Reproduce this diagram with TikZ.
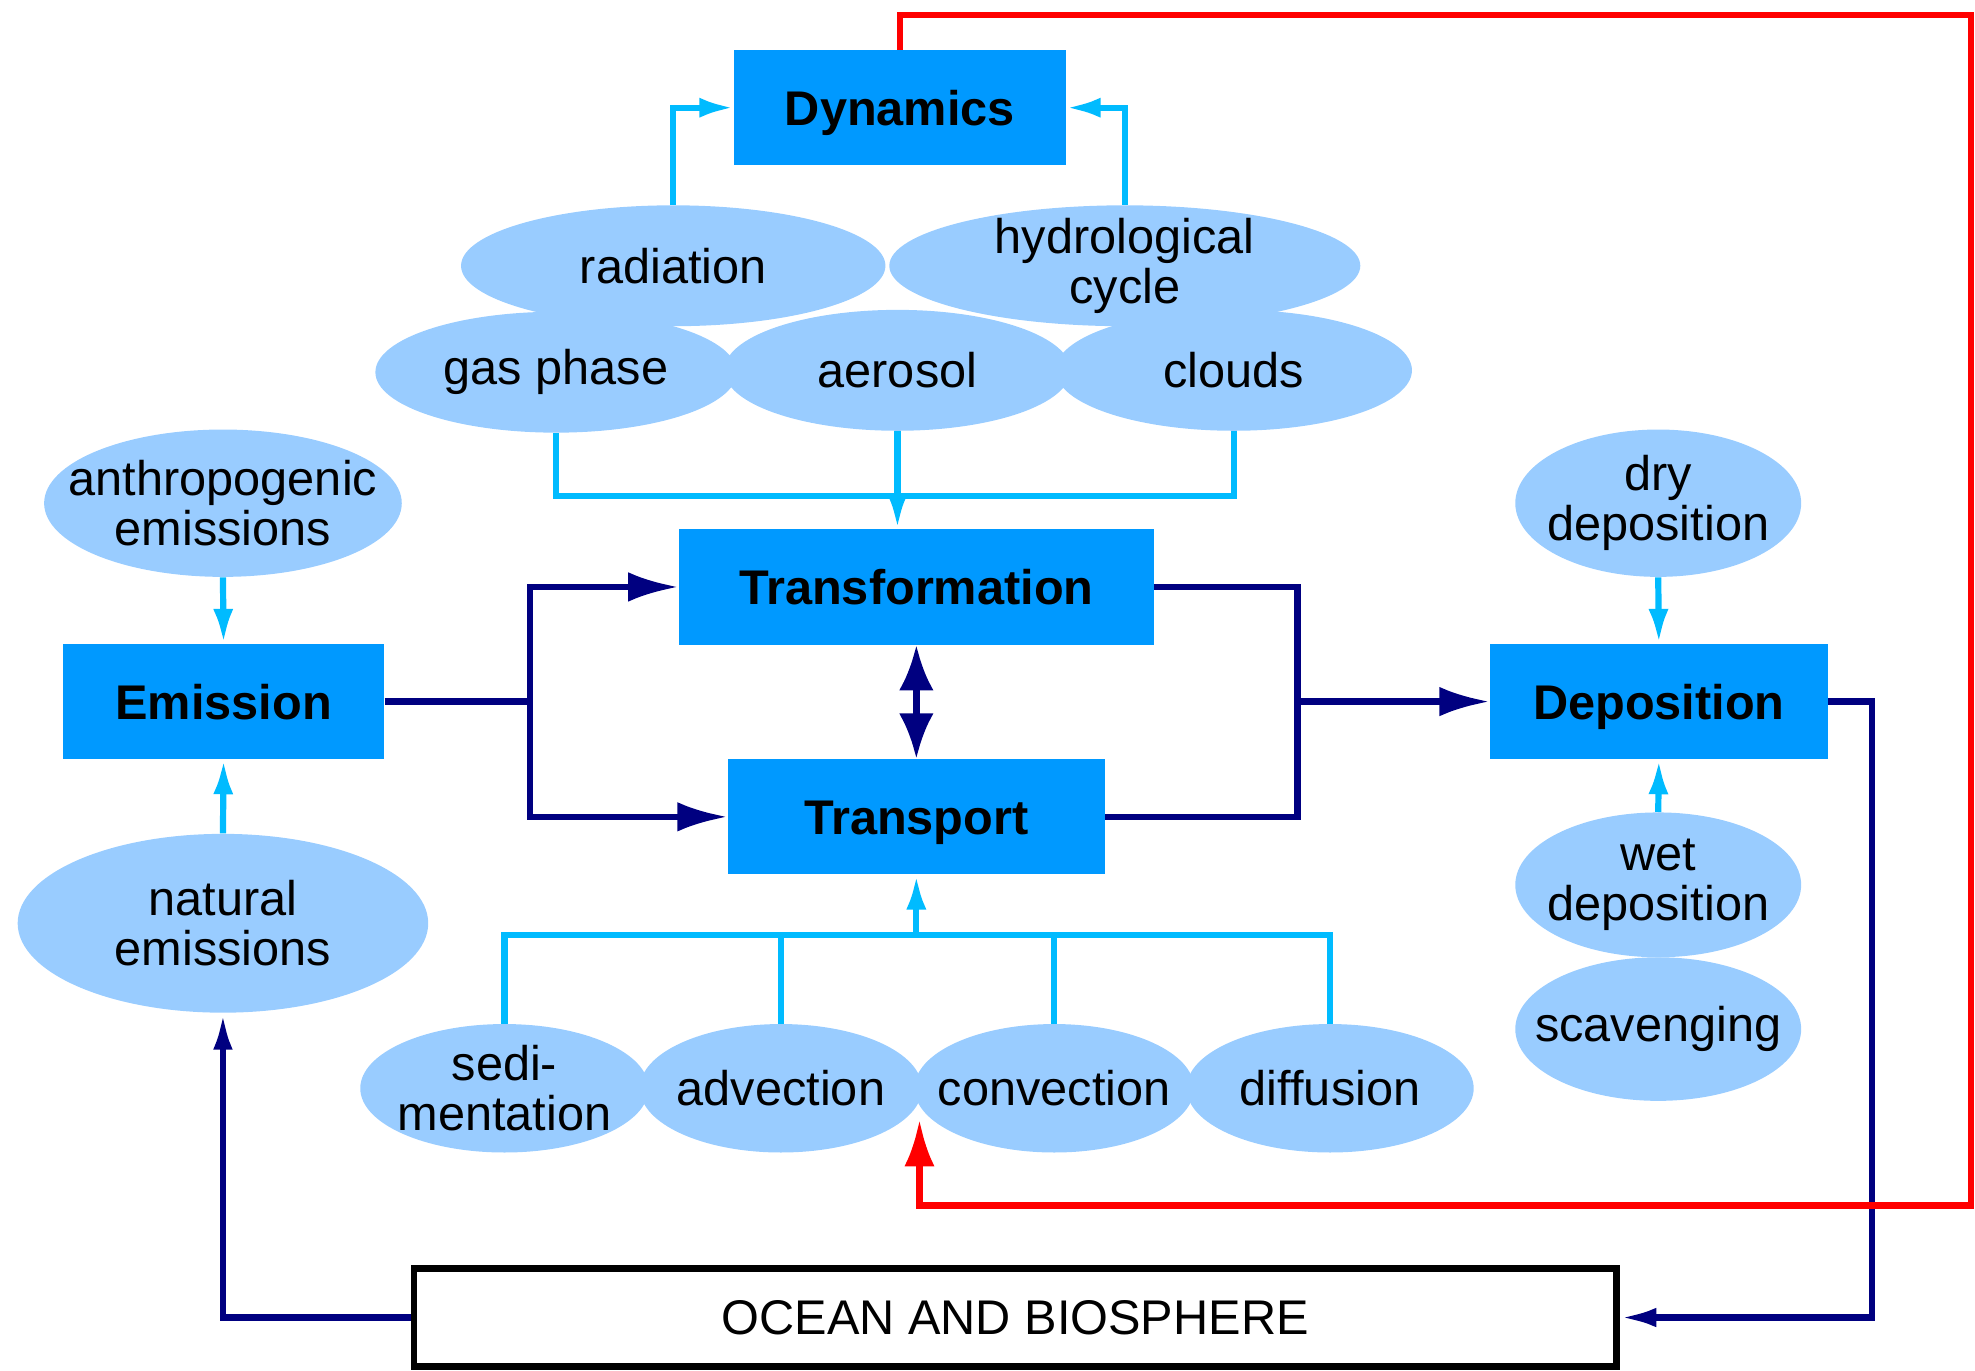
\documentclass[tikz,border=0pt]{standalone}
\usepackage{fontspec}
\setmainfont{Liberation Sans}
\usetikzlibrary{shapes.geometric,arrows.meta}

\definecolor{procblue}{RGB}{0,153,255}
\definecolor{factorblue}{RGB}{153,204,255}
\definecolor{linkblue}{RGB}{0,187,255}
\definecolor{flownavy}{RGB}{0,0,128}

\tikzstyle{process}=[fill=procblue,inner sep=0pt,minimum height=1.83cm,text height=15.8pt,text depth=0pt,font=\labelsize\bfseries]
\tikzstyle{factor}=[ellipse,fill=factorblue,inner sep=0pt]
\tikzstyle{factortext}=[align=center,font=\labelsize,inner sep=0pt]
\tikzstyle{sink}=[draw,line width=3pt,fill=white,minimum width=19.1cm,minimum height=1.55cm,font=\labelsize]
\tikzstyle{link} = [draw,line width=2.8pt,linkblue]
\tikzstyle{linkarrow} = [link,-{Latex[length=5.5mm,width=3.2mm]}]
\tikzstyle{flow} = [draw,line width=2.9pt,flownavy]
\tikzstyle{flowarrow} = [flow,-{Latex[length=8mm,width=4.7mm]}]
\tikzstyle{returnarrow} = [flow,-{Latex[length=5.8mm,width=3.1mm]}]
\tikzstyle{feedback} = [draw,line width=2.9pt,red,-{Latex[length=7.4mm,width=4.8mm]}]
\newcommand{\diagunit}{0.02}
\newcommand{\labelsize}{\fontsize{22}{22.5}\selectfont}

\begin{document}
\begin{tikzpicture}[x=\diagunit cm, y=-\diagunit cm]
    \useasboundingbox (0,0) rectangle (1568,1088);
    % First we draw the processes and the factors
    \foreach \pos/\name/\w/\text in {{(714.5,85.5)/dynamics/5.26/Dynamics},
        {(727.5,466)/transformation/7.54/Transformation}, {(727.5,648.5)/transport/5.98/Transport},
        {(177.5,557)/emission/5.1/Emission}, {(1317,557)/deposition/5.36/Deposition}}
        \node[process,minimum width=\w cm] (\name) at \pos {\text};
    \foreach \pos/\name/\w/\h/\text in {{(534.5,211)/radiation/6.74/1.92/radiation},
        {(893,211)/hydro/7.48/1.92/{hydrological\\cycle}}, {(441.5,295.5)/gas/5.74/1.92/gas phase},
        {(712.5,294)/aerosol/5.5/1.92/aerosol}, {(979.5,294)/clouds/5.66/1.92/clouds},
        {(177,399.5)/anthro/5.68/2.34/{anthropogenic\\emissions}},
        {(177,733)/natural/6.52/2.84/{natural\\emissions}},
        {(1316.5,399.5)/dry/4.54/2.34/{dry\\deposition}},
        {(1316.5,702.5)/wet/4.54/2.3/{wet\\deposition}},
        {(1316.5,817)/scav/4.54/2.28/scavenging},
        {(400.5,864)/sedi/4.58/2.04/{sedi-\\mentation}}, {(620,864)/advection/4.48/2.04/advection},
        {(837,864)/convection/4.44/2.04/convection}, {(1056,864)/diffusion/4.56/2.04/diffusion}}
        \node[factor,minimum width=\w cm,minimum height=\h cm,
              label={[factortext]center:{\text}}] (\name) at \pos {};
    \node[sink] (ocean) at (806,1046) {OCEAN AND BIOSPHERE};
    % Junctions of the connectors
    \coordinate (chembus) at (712.5,394);
    \coordinate (transbus) at (727.5,742);
    \coordinate (split) at (421,557);
    \coordinate (merge) at (1030,557);
    \coordinate (depturn) at (1486,557);
    \coordinate (fbtop) at (1565,12);
    \coordinate (fbbot) at (730,957);
    \coordinate (fbtip) at (730,889);
    % Factors feeding the processes
    \path[linkarrow] (radiation.north) |- (dynamics.west);
    \path[linkarrow] (hydro.north) |- (dynamics.east);
    \path[link] (gas.south) -- (gas.south |- chembus) -- (clouds.south |- chembus) -- (clouds.south);
    \path[linkarrow] (aerosol.south) -- (aerosol.south |- transformation.north);
    \path[link] (sedi.north) -- (sedi.north |- transbus) -- (diffusion.north |- transbus) -- (diffusion.north);
    \foreach \name in {advection,convection}
        \path[link] (\name.north) -- (\name.north |- transbus);
    \path[linkarrow] (transbus) -- (transport.south);
    \path[linkarrow] (anthro.south) -- (emission.north);
    \path[linkarrow] (natural.north) -- (emission.south);
    \path[linkarrow] (dry.south) -- (deposition.north);
    \path[linkarrow] (wet.north) -- (deposition.south);
    % Main flow between the processes
    \path[flow] (emission.east) -- (split);
    \path[flowarrow] (split) |- (transformation.west);
    \path[flowarrow] (split) |- (transport.west);
    \path[flow] (transformation.east) -| (merge);
    \path[flow] (transport.east) -| (merge);
    \path[flowarrow] (merge) -- (deposition.west);
    \path[flow,{Latex[length=7.2mm,width=5.5mm]}-{Latex[length=7.2mm,width=5.5mm]}] (transformation.south) -- (transport.north);
    \path[returnarrow] (deposition.east) -- (depturn) |- (ocean.east);
    \path[returnarrow] (ocean.west) -| (natural.south);
    % Feedback of the dynamics
    \path[feedback] (dynamics.north) |- (fbtop) |- (fbbot) -- (fbtip);
\end{tikzpicture}
\end{document}
